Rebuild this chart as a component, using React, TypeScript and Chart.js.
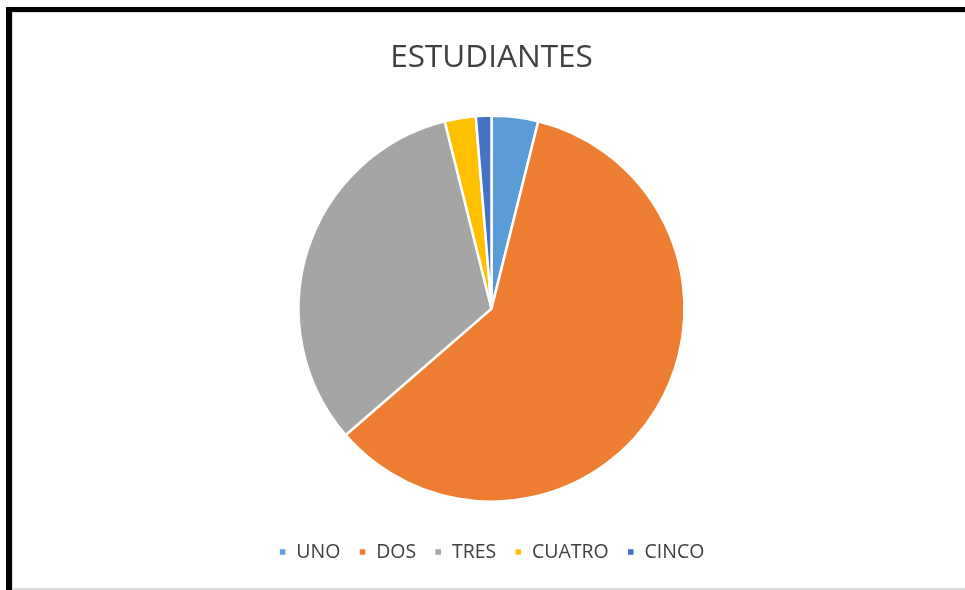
import React, { useEffect, useRef } from "react";
import { Chart, registerables } from "chart.js";

Chart.register(...registerables);

const categories = ["UNO", "DOS", "TRES", "CUATRO", "CINCO"];
const values = [3, 46, 25, 2, 1];
const colors = ["#5B9BD5", "#ED7D31", "#A5A5A5", "#FFC000", "#4472C4"];
const titleText = "ESTUDIANTES";

export default function App() {
  const ref = useRef<HTMLCanvasElement | null>(null);
  useEffect(() => {
    if (!ref.current) return;
    const chart = new Chart(ref.current, {
      type: "pie",
      data: {
        labels: categories,
        datasets: [
          {
            data: values,
            backgroundColor: colors,
            borderColor: "#ffffff",
            borderWidth: 2.5,
            radius: 193,
          } as any,
        ],
      },
      options: {
        animation: false,
        responsive: false,
        maintainAspectRatio: false,
        layout: { padding: { left: 5, right: 0, top: 0, bottom: 16.25 } },
        plugins: {
          title: {
            display: true,
            text: titleText,
            color: "#404040",
            font: { family: "'Open Sans', sans-serif", size: 31.5, weight: "normal" },
            padding: { top: 26, bottom: 16.2 },
          },
          legend: {
            display: true,
            position: "bottom",
            labels: {
              boxWidth: 8,
              boxHeight: 8,
              padding: 18,
              color: "#404040",
              font: { family: "'Open Sans', sans-serif", size: 19.5 },
            },
          },
          tooltip: { enabled: false },
        },
      },
    });
    return () => chart.destroy();
  }, []);

  return (
    <div style={{ position: "fixed", left: 0, top: 0, width: 965, height: 590, background: "#fff", overflow: "hidden" }}>
      <div
        style={{
          position: "absolute",
          left: 6,
          top: 7,
          width: 965,
          height: 590,
          borderLeft: "6px solid #000",
          borderTop: "5px solid #000",
          boxSizing: "border-box",
        }}
      />
      <div
        style={{
          position: "absolute",
          left: 12,
          top: 12,
          width: 953,
          height: 578,
          borderLeft: "1px solid #dcdcdc",
          borderTop: "1px solid #dcdcdc",
          borderBottom: "2px solid #dcdcdc",
          boxSizing: "border-box",
        }}
      />
      <canvas ref={ref} width={952} height={575} style={{ position: "absolute", left: 13, top: 13, width: 952, height: 575 }} />
    </div>
  );
}
